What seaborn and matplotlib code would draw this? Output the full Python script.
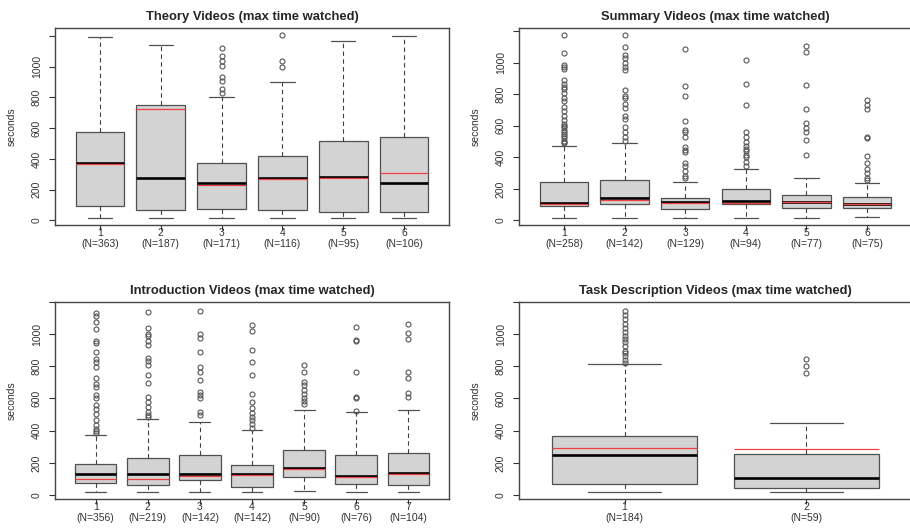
import matplotlib
matplotlib.use("Agg")
import matplotlib.pyplot as plt
import seaborn as sns

# ---- Theory videos ----
theory_counts = [363, 187, 171, 116, 95, 106]
theory_whislo = [17, 17, 17, 17, 17, 17]
theory_q1 = [91, 69, 73, 69, 54, 54]
theory_med = [373, 274, 244, 276, 281, 240]
theory_mean = [369, 724, 227, 270, 277, 311]
theory_q3 = [572, 752, 374, 421, 514, 544]
theory_whishi = [1194, 1145, 803, 898, 1166, 1199]
theory_fliers = [[], [], [1123, 1069, 1037, 1004, 933, 907, 853, 832],
                 [1205, 1037, 998], [], []]

# ---- Summary videos ----
summary_counts = [258, 142, 129, 94, 77, 75]
summary_whislo = [17, 17, 17, 17, 17, 21]
summary_q1 = [91, 105, 74, 101, 80, 80]
summary_med = [110, 139, 114, 126, 118, 105]
summary_mean = [103, 131, 109, 112, 114, 101]
summary_q3 = [242, 259, 141, 196, 162, 147]
summary_whishi = [474, 488, 246, 326, 267, 238]
summary_fliers = [
    [1173, 1059, 985, 973, 962, 891, 867, 846, 832, 806, 775, 754, 720, 691,
     663, 636, 611, 600, 589, 575, 562, 548, 537, 520, 505, 495, 488],
    [1173, 1101, 1046, 1027, 996, 973, 954, 825, 789, 775, 737, 712, 663, 642,
     589, 558, 526, 505],
    [1084, 853, 789, 632, 573, 562, 526, 463, 448, 432, 362, 343, 316, 284, 267],
    [1017, 863, 733, 558, 526, 495, 469, 453, 438, 417, 400, 373, 347],
    [1105, 1067, 859, 709, 617, 583, 562, 512, 415],
    [764, 733, 709, 531, 520, 411, 362, 326, 299, 267, 259],
]

# ---- Introduction videos ----
intro_counts = [356, 219, 142, 142, 90, 76, 104]
intro_whislo = [20, 20, 20, 20, 27, 20, 20]
intro_q1 = [72, 64, 92, 47, 113, 68, 64]
intro_med = [133, 129, 129, 129, 170, 115, 139]
intro_mean = [102, 98, 115, 127, 162, 109, 129]
intro_q3 = [195, 232, 246, 186, 281, 248, 258]
intro_whishi = [375, 473, 451, 402, 529, 514, 529]
intro_fliers = [
    [1133, 1113, 1076, 1031, 959, 945, 891, 846, 826, 795, 727, 693, 672, 621,
     600, 559, 535, 504, 467, 436, 410, 395, 385],
    [1139, 1041, 1000, 990, 959, 934, 850, 836, 809, 744, 699, 611, 580, 549,
     518, 498, 482],
    [1143, 1000, 975, 891, 795, 764, 713, 641, 621, 604, 518, 498],
    [1055, 1018, 902, 826, 744, 631, 580, 539, 512, 488, 467, 441, 416],
    [809, 764, 703, 682, 652, 631, 604, 584, 564],
    [1047, 965, 959, 764, 611, 600, 525],
    [1066, 1010, 973, 764, 727, 635, 607],
]

# ---- Task description videos ----
task_counts = [184, 59]
task_whislo = [20, 20]
task_q1 = [71, 43]
task_med = [251, 104]
task_mean = [294, 288]
task_q3 = [369, 255]
task_whishi = [816, 449]
task_fliers = [[1145, 1118, 1092, 1063, 1041, 1014, 990, 971, 949, 924, 898,
                880, 863, 839, 822],
               [843, 802, 757]]

ytick_values = [0, 200, 400, 600, 800, 1000, 1200]
ytick_labels = ["0", "200", "400", "600", "800", "1000", ""]


def build_stats(counts, whislo, q1, med, mean, q3, whishi, fliers):
    """Put the read-off numbers into the dicts that bxp wants"""
    stats = []
    for i in range(len(med)):
        stats.append({"label": "%d\n(N=%d)" % (i + 1, counts[i]),
                      "whislo": whislo[i], "q1": q1[i], "med": med[i],
                      "mean": mean[i], "q3": q3[i], "whishi": whishi[i],
                      "fliers": fliers[i]})
    return stats


def draw_panel(ax, stats, title):
    """Draws one R-looking boxplot panel"""
    n = len(stats)
    ax.bxp(stats, positions=range(1, n + 1), widths=0.8, capwidths=0.4,
           patch_artist=True, showmeans=True, meanline=True,
           boxprops=dict(facecolor="#d3d3d3", edgecolor="#505050", linewidth=0.9),
           whiskerprops=dict(color="#404040", linewidth=0.8, linestyle=(0, (4, 3))),
           capprops=dict(color="#505050", linewidth=0.9),
           medianprops=dict(color="black", linewidth=1.9, solid_capstyle="butt"),
           meanprops=dict(color="#f04040", linewidth=0.9, linestyle="-"),
           flierprops=dict(marker="o", markerfacecolor="none",
                           markeredgecolor="#555555", markersize=3.6,
                           markeredgewidth=0.8))
    # R style: 4% padding around the data range
    lo = min(min(s["whislo"] for s in stats),
             min([min(s["fliers"]) for s in stats if s["fliers"]] + [1e9]))
    hi = max(max(s["whishi"] for s in stats),
             max([max(s["fliers"]) for s in stats if s["fliers"]] + [0]))
    pad = (hi - lo) * 0.04
    ax.set_ylim(lo - pad, hi + pad)
    ax.set_xlim(0.5 - 0.04 * n, n + 0.5 + 0.04 * n)
    ax.set_yticks(ytick_values)
    ax.set_yticklabels(ytick_labels)
    ax.tick_params(axis="y", left=True, direction="out", labelrotation=90,
                   length=4.5, width=0.8, color="#333333", labelsize=7.5,
                   labelcolor="#333333", pad=5)
    for lab in ax.get_yticklabels():
        lab.set_verticalalignment("center")
    ax.tick_params(axis="x", bottom=True, direction="out", length=3.5,
                   width=0.8, color="#333333", labelsize=7.5,
                   labelcolor="#333333", pad=-1.5)
    for sp in ax.spines.values():
        sp.set_color("#444444")
        sp.set_linewidth(1.0)
    ax.set_title(title, fontsize=9.4, fontweight="bold", pad=6)
    ax.set_ylabel("seconds", fontsize=7.5, color="#333333")
    ax.yaxis.set_label_coords(-0.098, 0.5)


if __name__ == "__main__":
    sns.set_theme(style="white")
    plt.rcParams["font.family"] = ["Liberation Sans", "DejaVu Sans"]

    fig = plt.figure(figsize=(9.1, 5.28), dpi=100)
    w_left = 394 / 910
    w_right = 393 / 910
    h = 197 / 528
    ax1 = fig.add_axes([55 / 910, 1 - 225 / 528, w_left, h])
    ax2 = fig.add_axes([519 / 910, 1 - 225 / 528, w_right, h])
    ax3 = fig.add_axes([55 / 910, 1 - 499 / 528, w_left, h])
    ax4 = fig.add_axes([519 / 910, 1 - 499 / 528, w_right, h])

    draw_panel(ax1, build_stats(theory_counts, theory_whislo, theory_q1, theory_med,
                                theory_mean, theory_q3, theory_whishi, theory_fliers),
               "Theory Videos (max time watched)")
    draw_panel(ax2, build_stats(summary_counts, summary_whislo, summary_q1, summary_med,
                                summary_mean, summary_q3, summary_whishi, summary_fliers),
               "Summary Videos (max time watched)")
    draw_panel(ax3, build_stats(intro_counts, intro_whislo, intro_q1, intro_med,
                                intro_mean, intro_q3, intro_whishi, intro_fliers),
               "Introduction Videos (max time watched)")
    draw_panel(ax4, build_stats(task_counts, task_whislo, task_q1, task_med,
                                task_mean, task_q3, task_whishi, task_fliers),
               "Task Description Videos (max time watched)")

    fig.savefig("out.png", dpi=100)
